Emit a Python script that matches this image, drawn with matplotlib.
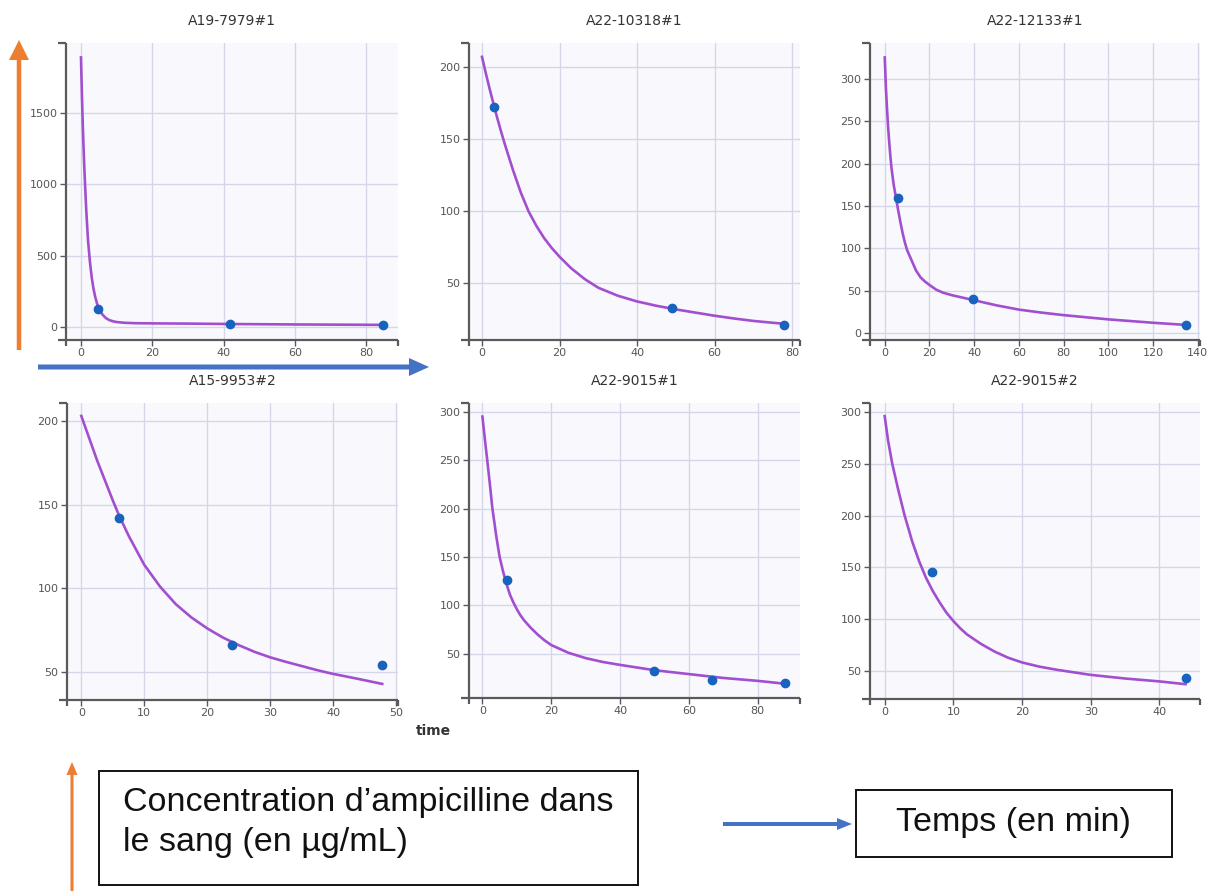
import matplotlib
matplotlib.use("Agg")
import matplotlib.pyplot as plt
from matplotlib.patches import FancyArrow, Rectangle

# ---------------- data ----------------
titles = ["A19-7979#1", "A22-10318#1", "A22-12133#1",
          "A15-9953#2", "A22-9015#1", "A22-9015#2"]

# measured points (time in min, concentration in µg/mL)
pts1_t = [4.8, 41.8, 84.7]
pts1_c = [128, 21, 15]
pts2_t = [3.0, 49.0, 77.8]
pts2_c = [172, 32.7, 21]
pts3_t = [5.7, 39.4, 134.7]
pts3_c = [159, 40.4, 9.8]
pts4_t = [6.0, 23.9, 47.8]
pts4_c = [142, 66, 54]
pts5_t = [7.0, 49.9, 66.8, 87.8]
pts5_c = [126, 31.8, 23.2, 19.7]
pts6_t = [6.9, 43.8]
pts6_c = [145, 42.6]

# fitted curves, values
fit1_t = [0, 0.25, 0.5, 0.75, 1, 1.25, 1.5, 1.75, 2, 2.5, 3, 3.5, 4, 4.5, 5, 5.5, 6, 7, 8, 9,
          10, 12, 15, 20, 30, 42, 60, 85]
fit1_c = [1890, 1640, 1420, 1240, 1080, 940, 810, 700, 600, 460, 350, 270, 210, 165, 130, 108,
          88, 62, 48, 40, 35, 30, 27, 25.5, 24, 21, 18, 15]
fit2_t = [0, 1, 2, 3, 4, 5, 6, 8, 10, 12, 14, 16, 18, 20, 23, 26.5, 30, 35, 40, 45, 50, 55,
          60, 65, 70, 78]
fit2_c = [207, 195.5, 184.5, 174, 164, 154.5, 145.5, 128.5, 113, 100, 90, 81.5, 74.5, 68.5,
          60.5, 53, 47, 41.5, 37.5, 34.5, 32, 29.8, 27.6, 25.7, 24, 22]
fit3_t = [0, 0.5, 1, 1.5, 2, 2.5, 3, 4, 5, 6, 7, 8, 9, 10, 12, 14, 16, 18, 20, 23, 26, 30, 35,
          40, 50, 60, 70, 80, 90, 100, 110, 120, 134.5]
fit3_c = [325, 290, 265, 243, 225, 209, 195, 175, 160, 145, 131, 118, 107, 98, 86, 74, 66, 61,
          57, 51.5, 48, 45, 42, 39, 33, 28, 24.5, 21.5, 19, 16.5, 14.5, 12.5, 10]
fit4_t = [0, 2.5, 5, 6, 7.5, 10, 12.5, 15, 17.5, 20, 22.5, 25, 27.5, 30, 32.5, 35, 37.5, 40,
          44, 47.8]
fit4_c = [203, 176.5, 152.5, 143.5, 131.5, 114, 101, 90.5, 82.5, 76, 70.5, 66, 62, 58.7, 56,
          53.5, 51, 48.8, 45.8, 42.8]
fit5_t = [0, 0.7, 1.4, 2.2, 2.9, 3.5, 4, 5, 6, 7, 8, 9, 10, 11, 12, 14, 16, 18, 20, 25, 30,
          35, 40, 50, 60, 70, 80, 88]
fit5_c = [295, 272, 250, 224, 200, 185, 172, 150, 135, 122, 111, 103, 96, 90, 85, 77, 70, 64,
          59, 51, 45.5, 41.5, 38.5, 33, 29, 25, 22, 19]
fit6_t = [0, 0.5, 1.1, 2, 2.9, 4, 5, 6, 7, 8, 9, 10, 11, 12, 14, 16, 18, 20, 22.5, 25, 27.5,
          30, 35, 40, 43.8]
fit6_c = [296, 272, 250, 224, 200, 175, 156, 140, 127, 116, 106, 98, 91, 85, 76, 68.5, 62.5,
          58, 54, 51, 48.5, 46, 42.5, 39.7, 37]

xticks_list = [[0, 20, 40, 60, 80], [0, 20, 40, 60, 80], [0, 20, 40, 60, 80, 100, 120, 140],
               [0, 10, 20, 30, 40, 50], [0, 20, 40, 60, 80], [0, 10, 20, 30, 40]]
yticks_list = [[0, 500, 1000, 1500], [50, 100, 150, 200], [0, 50, 100, 150, 200, 250, 300],
               [50, 100, 150, 200], [50, 100, 150, 200, 250, 300], [50, 100, 150, 200, 250, 300]]

pts_t = [pts1_t, pts2_t, pts3_t, pts4_t, pts5_t, pts6_t]
pts_c = [pts1_c, pts2_c, pts3_c, pts4_c, pts5_c, pts6_c]
fit_t = [fit1_t, fit2_t, fit3_t, fit4_t, fit5_t, fit6_t]
fit_c = [fit1_c, fit2_c, fit3_c, fit4_c, fit5_c, fit6_c]

ylabel_text = ["Concentration d\u2019ampicilline dans", "le sang (en \u00b5g/mL)"]
xlabel_text = "Temps (en min)"

# ---------------- layout ----------------
W, H = 1210, 891
fig = plt.figure(figsize=(W / 100, H / 100), dpi=100)
fig.patch.set_facecolor("white")

# axes boxes in pixels: x0, y0(top), x1, y1(bottom)
boxes = [(66, 43, 398, 340), (469, 43, 800, 340), (870, 43, 1200, 340),
         (67, 403, 398, 700), (469, 403, 800, 698), (870, 403, 1200, 699)]
xlims = [(-4.2, 88.9), (-3.35, 82), (-6.6, 141), (-2.27, 50.3), (-3.9, 92.3), (-2.14, 45.9)]
ylims = [(-91, 1991), (10.8, 216.6), (-7.8, 342), (33.2, 210.7), (4.3, 309), (22.7, 308.7)]

spine_col = "#5a5a5a"
grid_col = "#d6d6ea"
bg_col = "#f9f9fd"
curve_col = "#a24fcf"
pt_col = "#1763bd"

for i in range(6):
    x0, y0, x1, y1 = boxes[i]
    ax = fig.add_axes([x0 / W, 1 - y1 / H, (x1 - x0) / W, (y1 - y0) / H])
    ax.set_facecolor(bg_col)
    ax.set_xlim(*xlims[i])
    ax.set_ylim(*ylims[i])
    ax.set_xticks(xticks_list[i])
    ax.set_yticks(yticks_list[i])
    ax.grid(True, color=grid_col, lw=1.0)
    ax.set_axisbelow(True)
    for s in ax.spines.values():
        s.set_visible(False)
    ax.tick_params(direction="out", length=4, width=1.0, color=spine_col,
                   labelsize=8, labelcolor="#555555", pad=2)
    ax.plot(fit_t[i], fit_c[i], color=curve_col, lw=1.9, zorder=3,
            solid_joinstyle="round")
    ax.plot(pts_t[i], pts_c[i], "o", color=pt_col, ms=6, zorder=4)
    ax.set_title(titles[i], fontsize=10, color="#333333", pad=13)

    axw, axh = x1 - x0, y1 - y0
    ex, ey = 8 / axw, 6 / axh
    kw = dict(transform=ax.transAxes, clip_on=False, color=spine_col, lw=1.6, zorder=5,
              solid_capstyle="butt")
    ax.plot([0, 0], [-ey, 1], **kw)
    ax.plot([-ex, 0], [1, 1], **kw)
    ax.plot([-ex, 1], [0, 0], **kw)
    ax.plot([1, 1], [0, -ey], **kw)

# "time" label
fig.text(433 / W, 1 - 731 / H, "time", fontsize=10, fontweight="bold",
         color="#333333", ha="center", va="center")

# ---------------- arrows & boxes ----------------
def inch(px, py):
    return px / 100, (H - py) / 100


def arrow(px0, py0, px1, py1, width, hw, hl, color):
    xa, ya = inch(px0, py0)
    xb, yb = inch(px1, py1)
    fig.add_artist(FancyArrow(xa, ya, xb - xa, yb - ya, width=width / 100,
                              head_width=hw / 100, head_length=hl / 100,
                              length_includes_head=True, color=color, lw=0,
                              transform=fig.dpi_scale_trans))


orange = "#ed7d31"
blue = "#4472c4"
arrow(19, 350, 19, 40, 4.5, 20, 20, orange)
arrow(38, 367, 429, 367, 5, 18, 20, blue)
arrow(72, 891, 72, 762, 3, 11, 13, orange)
arrow(723, 824, 852, 824, 4, 12, 15, blue)


def rect(px0, py0, px1, py1):
    xa, ya = inch(px0, py1)
    fig.add_artist(Rectangle((xa, ya), (px1 - px0) / 100, (py1 - py0) / 100,
                             fill=False, ec="#111111", lw=1.4,
                             transform=fig.dpi_scale_trans))


rect(99, 771, 638, 885)
rect(856, 790, 1172, 857)

fig.text(123 / W, 1 - 803 / H, ylabel_text[0], fontsize=24.5, family="Liberation Sans",
         color="#111111", ha="left", va="center")
fig.text(123 / W, 1 - 842 / H, ylabel_text[1], fontsize=24.5, family="Liberation Sans",
         color="#111111", ha="left", va="center")
fig.text(1013 / W, 1 - 823 / H, xlabel_text, fontsize=24.5, family="Liberation Sans",
         color="#111111", ha="center", va="center")

fig.savefig("out.png", dpi=100)
